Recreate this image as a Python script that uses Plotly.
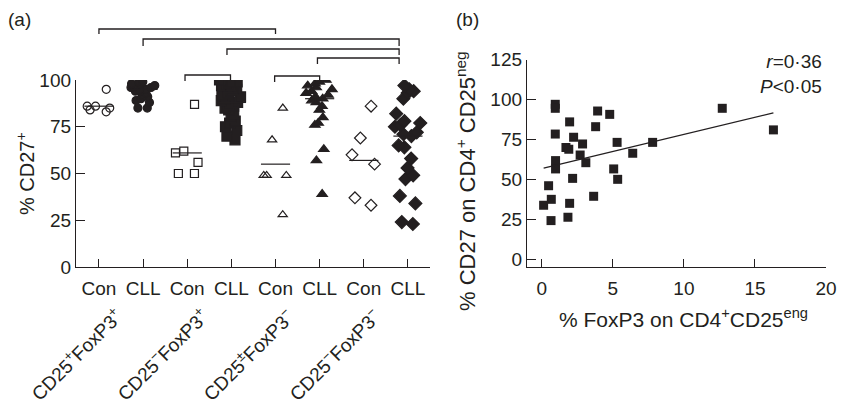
import plotly.graph_objects as go

# ---------------- data: panel (a) ----------------
group_names = ["CD25<sup>+</sup>FoxP3<sup>+</sup>", "CD25<sup>−</sup>FoxP3<sup>+</sup>",
               "CD25<sup>±</sup>FoxP3<sup>−</sup>", "CD25<sup>−</sup>FoxP3<sup>−</sup>"]
tick_labels_a = ["Con", "CLL", "Con", "CLL", "Con", "CLL", "Con", "CLL"]

con1 = [95, 86, 86, 84, 83, 85]
cll1 = [99, 99, 98, 98, 97, 97, 96, 96, 95, 95, 94, 94, 93, 92, 91, 90, 89, 88, 85, 85]
con2 = [87, 62, 61, 56, 50, 50]
cll2 = [100, 100, 99, 99, 98, 97, 97, 96, 95, 95, 94, 93, 92, 92, 91, 90, 89, 88, 87, 86,
        85, 84, 82, 80, 78, 77, 75, 73, 70, 68]
con3 = [85, 68, 49, 49, 49, 28]
cll3 = [100, 99, 98, 97, 96, 95, 94, 93, 92, 91, 90, 89, 88, 86, 84, 80, 77, 76, 63, 57, 39]
con4 = [86, 69, 60, 55, 37, 33]
cll4 = [97, 95, 94, 93, 90, 82, 78, 77, 76, 75, 72, 71, 70, 65, 64, 58, 53, 49, 47, 38, 34, 24, 23]
group_means = [86, 95, 61, 88, 55, 90, 57, 70]

series_a = [con1, cll1, con2, cll2, con3, cll3, con4, cll4]

# ---------------- data: panel (b) ----------------
foxp3_pct = [0.95, 0.95, 1.96, 3.93, 4.78, 3.79, 0.95, 2.24, 12.7, 16.3, 5.3, 7.8, 1.7, 1.9,
             2.87, 2.7, 3.1, 0.97, 0.97, 6.4, 5.06, 5.34, 2.17, 0.48, 3.65, 0.67, 0.13, 1.96,
             0.65, 1.84]
cd27_pct = [97, 94.5, 86, 92.8, 90.7, 83, 78.4, 76.4, 94.5, 81, 73.2, 73.2, 70, 68.9, 72.2,
            65.3, 60.5, 61.8, 56.6, 66.4, 56.6, 50.1, 50.7, 46.1, 39.5, 37.6, 33.9, 35.1,
            24.3, 26.4]
fit_slope = 2.13
fit_intercept = 56.9

# ---------------- styling ----------------
INK = "#231f20"
FONT = "Liberation Sans, Arial, sans-serif"
W, H = 849, 407

symbols = ["circle-open", "circle", "square-open", "square",
           "triangle-up-open", "triangle-up", "diamond-open", "diamond"]
sizes = [8, 8, 8, 10, 8, 9, 9, 10]

def py2paper(py):
    return (H - py) / H

fig = go.Figure()

for i, vals in enumerate(series_a):
    pos = i + 1
    fig.add_trace(go.Box(
        x=[pos] * len(vals), y=vals, xaxis="x", yaxis="y",
        boxpoints="all", jitter=0.7, pointpos=0,
        fillcolor="rgba(0,0,0,0)", line=dict(width=0, color="rgba(0,0,0,0)"),
        marker=dict(symbol=symbols[i], size=sizes[i], color=INK,
                    line=dict(width=1.2, color=INK)),
        showlegend=False, hoverinfo="y",
    ))
    fig.add_trace(go.Scatter(
        x=[pos - 0.33, pos + 0.33], y=[group_means[i]] * 2, mode="lines",
        line=dict(color=INK, width=1.2), xaxis="x", yaxis="y",
        showlegend=False, hoverinfo="skip",
    ))

# panel (b)
fig.add_trace(go.Scatter(
    x=foxp3_pct, y=cd27_pct, mode="markers", xaxis="x2", yaxis="y2",
    marker=dict(symbol="square", size=9, color=INK), showlegend=False,
    cliponaxis=False,
))
x0, x1 = min(foxp3_pct), max(foxp3_pct)
fig.add_trace(go.Scatter(
    x=[x0, x1], y=[fit_intercept + fit_slope * x0, fit_intercept + fit_slope * x1],
    mode="lines", line=dict(color=INK, width=1.3), xaxis="x2", yaxis="y2",
    showlegend=False, hoverinfo="skip",
))

axis_common = dict(showline=True, linecolor=INK, linewidth=1.3, showgrid=False,
                   zeroline=False, ticks="inside", tickcolor=INK, tickwidth=1.3,
                   tickfont=dict(family=FONT, size=19, color=INK))

fig.update_layout(
    width=W, height=H, margin=dict(l=0, r=0, t=0, b=0, autoexpand=False),
    paper_bgcolor="white", plot_bgcolor="white",
    boxmode="overlay", boxgap=0.1, boxgroupgap=0,
    font=dict(family=FONT, color=INK),
    xaxis=dict(domain=[76 / W, 430 / W], range=[0.48, 8.5], tickvals=list(range(1, 9)),
               ticktext=tick_labels_a, ticklen=8, anchor="y", ticklabelstandoff=4,
               **axis_common),
    yaxis=dict(domain=[py2paper(267), py2paper(80)], range=[0, 100],
               tickvals=[0, 25, 50, 75, 100], ticklen=9, anchor="x", **axis_common),
    xaxis2=dict(domain=[527 / W, 826 / W], range=[-1.04, 20], tickvals=[0, 5, 10, 15, 20],
                ticklen=8, anchor="y2", ticklabelstandoff=4, **axis_common),
    yaxis2=dict(domain=[py2paper(267), py2paper(59.5)], range=[-4.7, 125],
                tickvals=[0, 25, 50, 75, 100, 125], ticklen=9, anchor="x2", **axis_common),
    showlegend=False,
)

# brackets (a)
brackets = [(1, 5, 29, 34), (2, 7.8, 39, 46), (3.9, 7.8, 49, 55), (5.95, 7.8, 58, 64),
            (2.95, 3.98, 75, 81), (4.98, 6.0, 76, 82)]
for xa, xb, ytop, yleg in brackets:
    fig.add_shape(type="path", xref="x", yref="paper",
                  path=f"M {xa},{py2paper(yleg)} L {xa},{py2paper(ytop)} L {xb},{py2paper(ytop)} L {xb},{py2paper(yleg)}",
                  line=dict(color=INK, width=1.3))

annots = []
# group labels rotated
for g, name in enumerate(group_names):
    annots.append(dict(x=2 * g + 1.7 - 0.05 * g, y=py2paper(301), xref="x", yref="paper",
                       text=name, textangle=-45, showarrow=False,
                       xanchor="right", yanchor="top",
                       font=dict(family=FONT, size=19, color=INK)))
annots += [
    dict(x=6 / W, y=py2paper(19), xref="paper", yref="paper", text="(a)", showarrow=False,
         xanchor="left", yanchor="middle", font=dict(family=FONT, size=19, color=INK)),
    dict(x=454 / W, y=py2paper(20), xref="paper", yref="paper", text="(b)", showarrow=False,
         xanchor="left", yanchor="middle", font=dict(family=FONT, size=19, color=INK)),
    dict(x=25 / W, y=py2paper(174), xref="paper", yref="paper", text="% CD27<sup>+</sup>",
         textangle=-90, showarrow=False, xanchor="center", yanchor="middle",
         font=dict(family=FONT, size=20, color=INK)),
    dict(x=466 / W, y=py2paper(181), xref="paper", yref="paper",
         text="% CD27 on CD4<sup>+</sup> CD25<sup>neg</sup>",
         textangle=-90, showarrow=False, xanchor="center", yanchor="middle",
         font=dict(family=FONT, size=22, color=INK)),
    dict(x=683 / W, y=py2paper(318), xref="paper", yref="paper",
         text="% FoxP3 on CD4<sup>+</sup>CD25<sup>eng</sup>", showarrow=False,
         xanchor="center", yanchor="middle", font=dict(family=FONT, size=21, color=INK)),
    dict(x=824 / W, y=py2paper(74), xref="paper", yref="paper",
         text="<i>r</i>=0·36<br><i>P</i><0·05", align="right",
         showarrow=False, xanchor="right", yanchor="middle",
         font=dict(family=FONT, size=19, color=INK)),
]
fig.update_layout(annotations=annots)

fig.write_html("out.html", post_script="document.body.style.margin='0';")
